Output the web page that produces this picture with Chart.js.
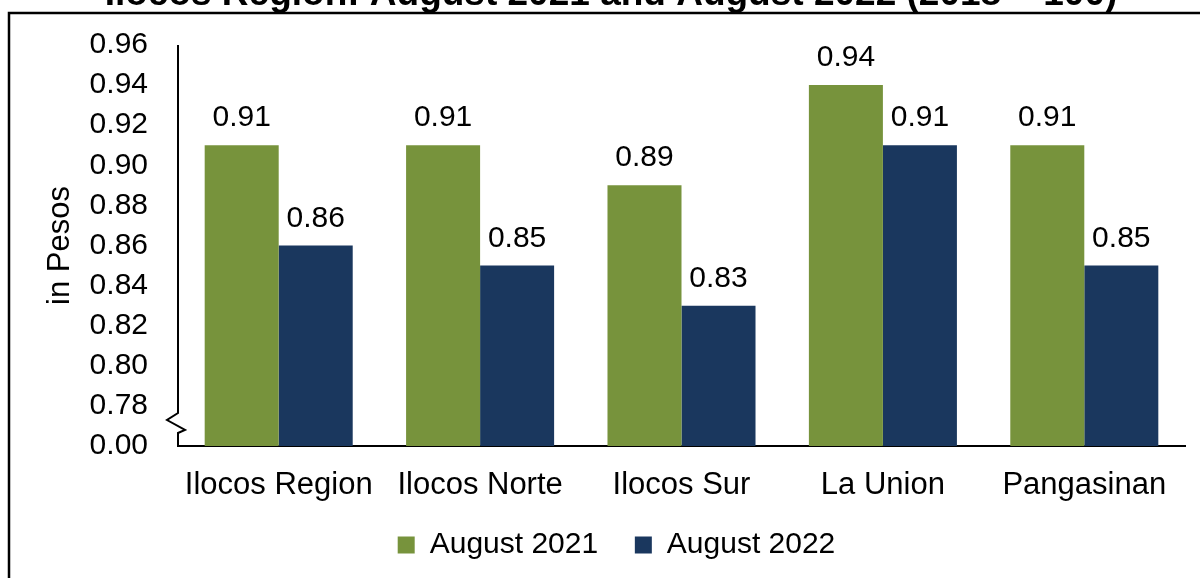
<!DOCTYPE html>
<html>
<head>
<meta charset="utf-8">
<title>Ilocos Region: August 2021 and August 2022</title>
<script src="https://cdn.jsdelivr.net/npm/chart.js@4.4.1/dist/chart.umd.min.js"></script>
<style>
    body { margin: 0; background: #fff; }
    #wrap { width: 1200px; height: 578px; position: relative; }
</style>
</head>
<body>
<div id="wrap"><canvas id="ppChart"></canvas></div>
<script>
// Data
const provinces = ["Ilocos Region", "Ilocos Norte", "Ilocos Sur", "La Union", "Pangasinan"];
const aug2021 = [0.91, 0.91, 0.89, 0.94, 0.91];
const aug2022 = [0.86, 0.85, 0.83, 0.91, 0.85];
const seriesNames = ["August 2021", "August 2022"];
// broken axis: the bottom tick is shown as 0.00
const yTickLabels = ["0.00", "0.78", "0.80", "0.82", "0.84", "0.86", "0.88", "0.90", "0.92", "0.94", "0.96"];
const chartTitle = "Ilocos Region: August 2021 and August 2022 (2018 = 100)";

const FONT = "'Liberation Sans', Arial, sans-serif";

// Title, outer frame, broken y axis and value labels
const decorPlugin = {
    id: "decor",
    afterDraw(chart) {
        const ctx = chart.ctx;
        const area = chart.chartArea;
        ctx.save();

        // outer frame (cut by the picture edge on the right and bottom)
        ctx.strokeStyle = "#000";
        ctx.lineWidth = 2.5;
        ctx.strokeRect(9, 13, 1400, 800);

        // title, mostly above the top edge
        ctx.fillStyle = "#000";
        ctx.font = "bold 37px " + FONT;
        ctx.textAlign = "center";
        ctx.textBaseline = "alphabetic";
        ctx.fillText(chartTitle, 611, 5);

        // y axis line with break mark
        const x0 = area.left;
        const b = area.bottom;
        ctx.lineWidth = 2;
        ctx.beginPath();
        ctx.moveTo(x0, area.top);
        ctx.lineTo(x0, b - 33);
        ctx.lineTo(x0 - 11, b - 26);
        ctx.lineTo(x0 + 7, b - 16);
        ctx.lineTo(x0, b - 13);
        ctx.lineTo(x0, b + 1);
        ctx.stroke();

        // value labels above bars
        ctx.font = "30px " + FONT;
        ctx.textAlign = "center";
        ctx.textBaseline = "alphabetic";
        chart.data.datasets.forEach((ds, i) => {
            const meta = chart.getDatasetMeta(i);
            meta.data.forEach((bar, j) => {
                ctx.fillText(ds.data[j].toFixed(2), bar.x, bar.y - 19);
            });
        });
        ctx.restore();
    }
};

const ctx = document.getElementById("ppChart").getContext("2d");

new Chart(ctx, {
    type: "bar",
    data: {
        labels: provinces,
        datasets: [
            {
                label: seriesNames[0],
                data: aug2021,
                backgroundColor: "#77933C",
                borderWidth: 0
            },
            {
                label: seriesNames[1],
                data: aug2022,
                backgroundColor: "#1A375E",
                borderWidth: 0
            }
        ]
    },
    options: {
        responsive: true,
        maintainAspectRatio: false,
        animation: false,
        layout: {
            padding: { left: 48, top: 45, right: 15, bottom: 8 }
        },
        datasets: {
            bar: {
                categoryPercentage: 0.735,
                barPercentage: 1.0
            }
        },
        plugins: {
            title: { display: false },
            tooltip: { enabled: false },
            legend: {
                display: true,
                position: "bottom",
                labels: {
                    color: "#000",
                    boxWidth: 17,
                    boxHeight: 17,
                    padding: 20,
                    font: { family: FONT, size: 30 },
                    // a little extra room after the first entry, like the original
                    generateLabels(chart) {
                        const items = Chart.defaults.plugins.legend.labels.generateLabels(chart);
                        items.forEach((item, i) => {
                            if (i < items.length - 1) item.text = item.text + "  ";
                        });
                        return items;
                    }
                }
            }
        },
        scales: {
            x: {
                grid: { display: false, drawTicks: false },
                border: { display: true, color: "#000", width: 2 },
                ticks: {
                    color: "#000",
                    padding: 21,
                    maxRotation: 0,
                    autoSkip: false,
                    font: { family: FONT, size: 31 }
                },
                afterFit(scale) {
                    scale.height = 64;
                }
            },
            y: {
                min: 0.76,
                max: 0.96,
                grid: { display: false, drawTicks: false },
                border: { display: false },
                ticks: {
                    stepSize: 0.02,
                    color: "#000",
                    padding: 30,
                    font: { family: FONT, size: 30 },
                    callback: (value, index) => yTickLabels[index]
                },
                title: {
                    display: true,
                    text: "in Pesos",
                    color: "#000",
                    padding: { top: -6, bottom: 0 },
                    font: { family: FONT, size: 31 }
                },
                afterFit(scale) {
                    scale.width = 130;
                    // only half a label is needed above and below the axis
                    scale.paddingTop = 18;
                    scale.paddingBottom = 18;
                }
            }
        }
    },
    plugins: [decorPlugin]
});
</script>
</body>
</html>
